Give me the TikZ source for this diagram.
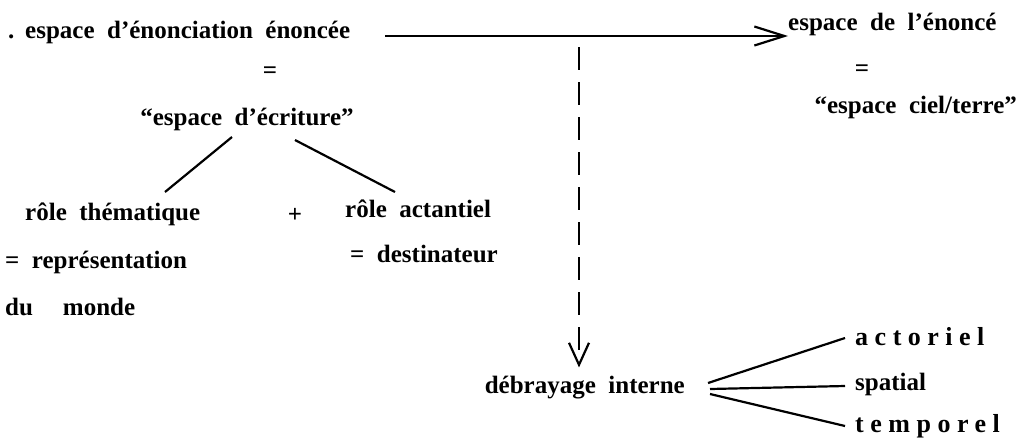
\documentclass[tikz,border=0pt]{standalone}
\usepackage{fontspec}
\setmainfont{Liberation Serif}
\usetikzlibrary{arrows.meta,calc}
\newcommand\widespaces{\spaceskip=0.5em\relax}
\begin{document}
\begin{tikzpicture}[x=1pt,y=-1pt,
  txt/.style={inner sep=0pt,anchor=base west,font=\fontsize{25}{30}\selectfont\bfseries,execute at begin node=\widespaces},
  ln/.style={line width=2.2pt},
  spaced/.style={txt,font=\fontsize{26}{30}\selectfont\bfseries\addfontfeatures{LetterSpace=25}}]
\useasboundingbox (0,0) rectangle (1025,440);
\node[txt] (dot) at (8,38) {.};
\node[txt] (enon) at (25,38) {espace d’énonciation énoncée};
\node[txt] (enonce) at (788,30) {espace de l’énoncé};
\node[txt,anchor=base] (eqL) at (270,78) {=};
\node[txt,anchor=base] (eqR) at (862,76) {=};
\node[txt,anchor=base] (ecr) at (247,125) {“espace d’écriture”};
\node[txt,anchor=base east] (ciel) at (1017,113) {“espace ciel/terre”};
\node[txt] (them) at (25,220) {rôle thématique};
\node[txt,anchor=center] (plus) at (295,215) {+};
\node[txt] (act) at (345,217) {rôle actantiel};
\node[txt] (repr) at (5,268) {= représentation};
\node[txt] (dest) at (350,262) {= destinateur};
\node[txt] (monde) at (5,315) {du\hspace{1.2em}monde};
\node[txt,anchor=base east] (debr) at (685,393) {débrayage interne};
\node[spaced] (actor) at (855,345) {actoriel};
\node[txt] (spat) at (855,390) {spatial};
\node[spaced] (temp) at (855,432) {temporel};
% connectors
\coordinate (hs) at (385,36);
\draw[ln,-{Straight Barb[length=30pt,width=19pt,line width=2.2pt]}] (hs) -- (enonce.west |- hs);
\coordinate (vs) at (579,47);
\draw[ln,dash pattern=on 23pt off 12pt,-{Straight Barb[length=22pt,width=20pt,line width=2.2pt]}] (vs) -- ($(vs |- debr.north)+(0,-8)$);
\draw[ln] ($(ecr.base)+(-15,12)$) -- ($(them.base west)+(140,-28)$);
\draw[ln] ($(ecr.base)+(48,15)$) -- ($(act.base west)+(50,-25)$);
\draw[ln] ($(debr.base east)+(23,-10)$) -- ($(actor.base west)+(-10,-7)$);
\draw[ln] ($(debr.base east)+(25,-4)$) -- ($(spat.base west)+(-10,-4)$);
\draw[ln] ($(debr.base east)+(25,1)$) -- ($(temp.base west)+(-10,-6)$);
\end{tikzpicture}
\end{document}
